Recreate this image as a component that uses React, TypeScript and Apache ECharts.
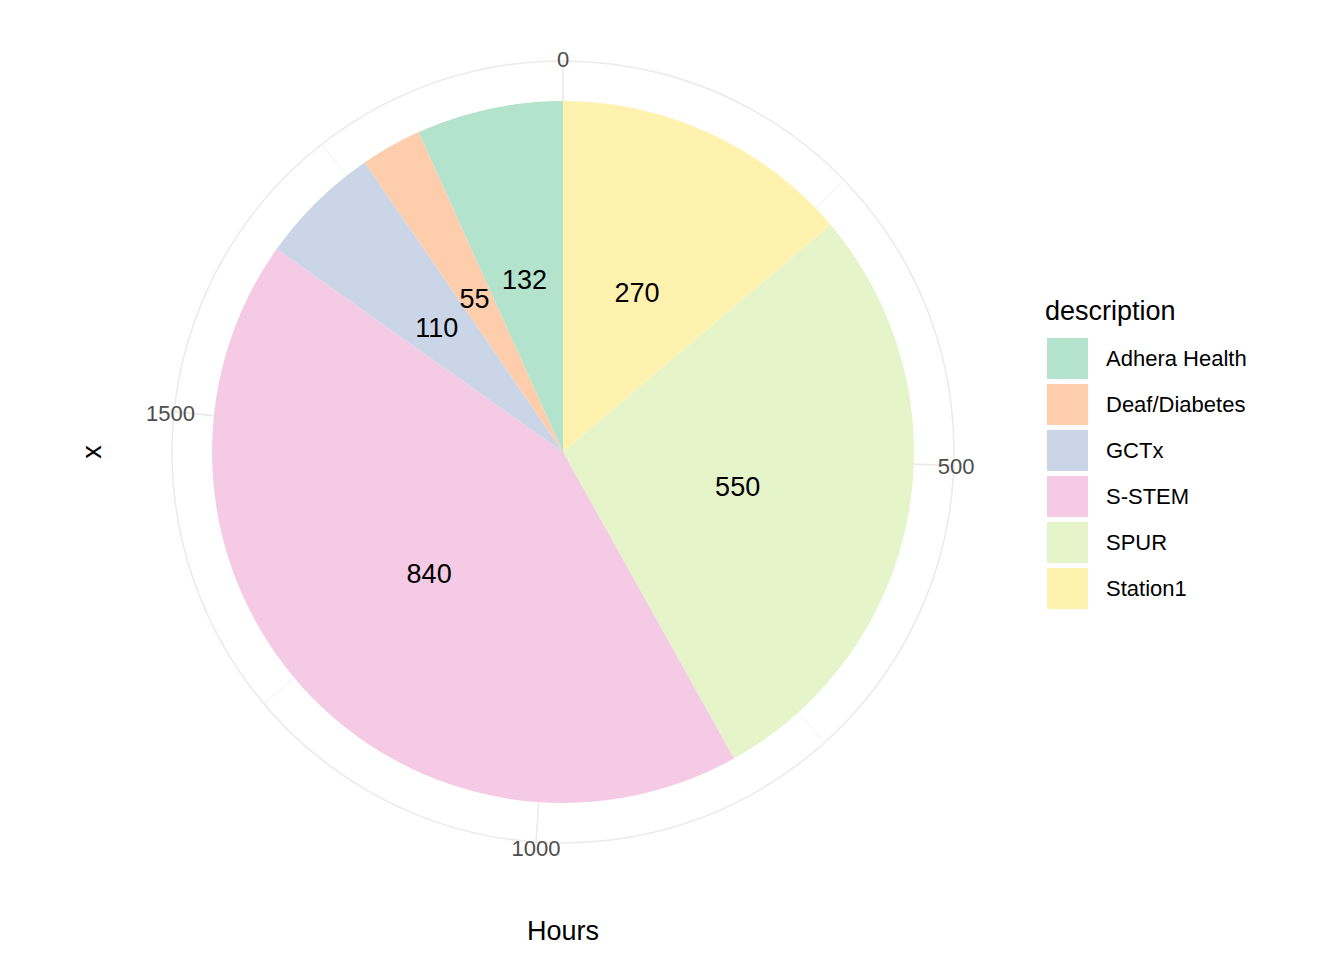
import React, { useEffect, useRef } from "react";
import * as echarts from "echarts";

const categories = ["Station1", "SPUR", "S-STEM", "GCTx", "Deaf/Diabetes", "Adhera Health"];
const hours = [270, 550, 840, 110, 55, 132];
const colors = ["#FFF2AE", "#E6F5C9", "#F4CAE4", "#CBD5E8", "#FDCDAC", "#B3E2CD"];
const legendOrder = ["Adhera Health", "Deaf/Diabetes", "GCTx", "S-STEM", "SPUR", "Station1"];
const tickLabels = [0, 500, 1000, 1500];
const total = hours.reduce((a, b) => a + b, 0);

const FONT = "'Liberation Sans', Arial, sans-serif";
const CX = 563;
const CY = 452;
const R_OUT = 391;

export default function App() {
  const ref = useRef<HTMLDivElement>(null);
  useEffect(() => {
    if (!ref.current) return;
    const chart = echarts.init(ref.current, null, { renderer: "svg" });
    const grid = "#EBEBEB";
    const tickRich = {
      t0: { fontSize: 22, color: "#4D4D4D", fontFamily: FONT, padding: [0, 0, 12, 0] },
      t500: { fontSize: 22, color: "#4D4D4D", fontFamily: FONT, padding: [4, 0, 0, 5] },
      t1000: { fontSize: 22, color: "#4D4D4D", fontFamily: FONT, padding: [16, 3, 0, 0] },
      t1500: { fontSize: 22, color: "#4D4D4D", fontFamily: FONT, padding: [0, 0, 0, 0] },
    };
    const baseAngle = {
      type: "value",
      min: 0,
      max: total,
      startAngle: 90,
      clockwise: true,
    };
    chart.setOption({
      animation: false,
      backgroundColor: "#FFFFFF",
      textStyle: { fontFamily: FONT },
      title: {
        text: "description",
        left: 1045,
        top: 297,
        padding: 0,
        textStyle: { fontSize: 27, fontWeight: "normal", color: "#000000", fontFamily: FONT },
      },
      polar: [
        { center: [CX, CY], radius: R_OUT },
        { center: [CX, CY], radius: R_OUT },
        { center: [CX, CY], radius: R_OUT },
      ],
      radiusAxis: [
        { polarIndex: 0, type: "value", show: false },
        { polarIndex: 1, type: "value", show: false },
        { polarIndex: 2, type: "value", show: false },
      ],
      angleAxis: [
        {
          ...baseAngle,
          polarIndex: 0,
          interval: 250,
          z: 0,
          axisLine: { show: false },
          axisTick: { show: false },
          axisLabel: { show: false },
          splitLine: { show: true, lineStyle: { color: grid, width: 0.7 } },
        },
        {
          ...baseAngle,
          polarIndex: 1,
          interval: 500,
          z: 1,
          axisLine: { show: true, lineStyle: { color: grid, width: 1.6 } },
          axisTick: { show: false },
          axisLabel: { show: false },
          splitLine: { show: true, lineStyle: { color: grid, width: 1.6 } },
        },
        {
          ...baseAngle,
          polarIndex: 2,
          interval: 500,
          z: 10,
          axisLine: { show: false },
          axisTick: { show: false },
          splitLine: { show: false },
          axisLabel: {
            show: true,
            margin: -21,
            fontSize: 22,
            color: "#4D4D4D",
            fontFamily: FONT,
            formatter: (v: number) =>
              tickLabels.indexOf(v) >= 0 ? `{t${v}|${v}}` : "",
            rich: tickRich,
          },
        },
      ],
      legend: {
        data: legendOrder,
        orient: "vertical",
        left: 1047,
        top: 338,
        padding: 0,
        itemWidth: 41,
        itemHeight: 41,
        itemGap: 5,
        icon: "rect",
        selectedMode: false,
        textStyle: { fontSize: 22, color: "#000000", fontFamily: FONT, padding: [8, 0, 0, 13] },
      },
      graphic: [
        {
          type: "text",
          x: 92,
          y: CY,
          rotation: Math.PI / 2,
          style: {
            text: "x",
            fontSize: 27,
            fill: "#000000",
            fontFamily: FONT,
            align: "center",
            verticalAlign: "middle",
          },
        },
        {
          type: "text",
          x: CX,
          y: 931,
          style: {
            text: "Hours",
            fontSize: 27,
            fill: "#000000",
            fontFamily: FONT,
            align: "center",
            verticalAlign: "middle",
          },
        },
      ],
      series: [
        {
          type: "pie",
          center: [CX, CY],
          radius: [0, 351],
          startAngle: 90,
          clockwise: true,
          avoidLabelOverlap: false,
          silent: true,
          z: 5,
          label: {
            show: true,
            position: "inside",
            formatter: "{c}",
            fontSize: 27,
            color: "#000000",
            fontFamily: FONT,
            offset: [-1, 3],
          },
          labelLine: { show: false },
          emphasis: { disabled: true },
          data: categories.map((name, i) => ({
            name,
            value: hours[i],
            itemStyle: { color: colors[i] },
          })),
        },
      ],
    });
    return () => chart.dispose();
  }, []);
  return (
    <div
      ref={ref}
      style={{ position: "fixed", left: 0, top: 0, width: 1344, height: 960 }}
    />
  );
}
